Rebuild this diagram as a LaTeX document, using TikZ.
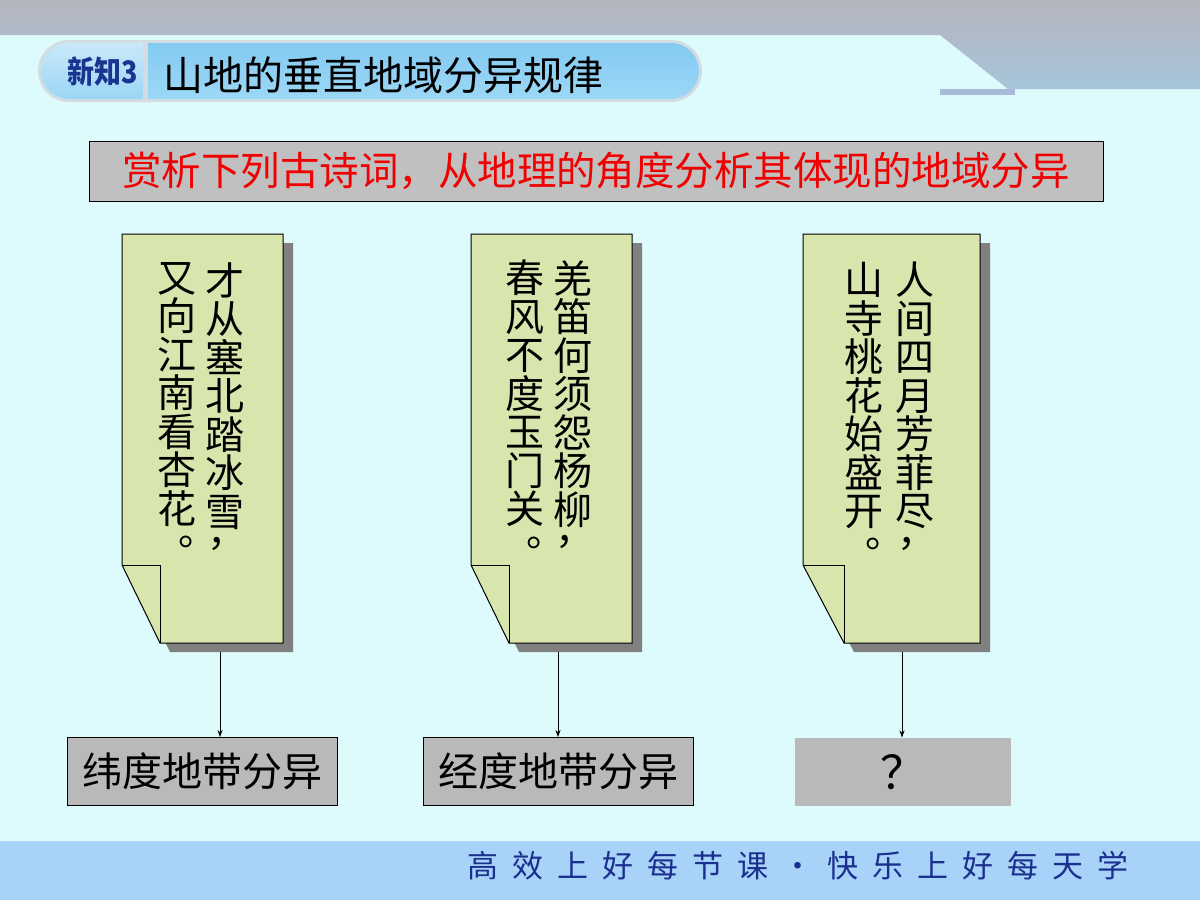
\documentclass[tikz,border=0pt]{standalone}
\usepackage{fontspec}
\newfontfamily\cjk{Noto Sans CJK SC}
\usetikzlibrary{arrows.meta}
\definecolor{bg}{HTML}{DDFBFD}
\definecolor{bandtop}{HTML}{B5B5BE}
\definecolor{bandbot}{HTML}{A6C4DA}
\definecolor{strip}{HTML}{A9B9D9}
\definecolor{pillborder}{HTML}{D3DCE2}
\definecolor{ptop}{HTML}{84CAF2}
\definecolor{pmid}{HTML}{D2F3FD}
\definecolor{pbot}{HTML}{9CD8F6}
\definecolor{ttop}{HTML}{C8E9F8}
\definecolor{tbot}{HTML}{9BD6F6}
\definecolor{tagblue}{HTML}{1A3590}
\definecolor{redfill}{HTML}{C0C0C0}
\definecolor{redtext}{HTML}{F00000}
\definecolor{notefill}{HTML}{D8E5AD}
\definecolor{notesh}{HTML}{808080}
\definecolor{labfill}{HTML}{B9B9B9}
\definecolor{footband}{HTML}{A7D3F8}
\definecolor{foottext}{HTML}{1B2F8F}
\newcommand\fsp{\kern14pt}
\newcommand\vcm{\makebox[1em][l]{\hspace{0.05em}\raisebox{0.45em}{，}}}
\newcommand\vpd{\makebox[1em][l]{\hspace{0.55em}\raisebox{0.42em}{。}}}
\newcommand\mynote[3]{%
  \fill[notesh] (#1+10,243) -- (#2+10,243) -- (#2+10,652) -- (#3+10,652) -- (#1+10,574) -- cycle;
  \filldraw[notebox] (#1,234) -- (#2,234) -- (#2,643) -- (#3,643) -- (#1,565) -- cycle;
  \draw[line width=1pt] (#1,565) -- (#3,565) -- (#3,643);}
\tikzset{
  notebox/.style={fill=notefill, draw=black, line width=1pt},
  vcol/.style={anchor=north, inner sep=0pt, align=center, font={\cjk\fontsize{39pt}{38.5pt}\selectfont}},
  labbox/.style={fill=labfill, draw=black, line width=1pt, minimum height=68pt, inner sep=0pt, font={\cjk\fontsize{40pt}{40pt}\selectfont}},
  conn/.style={line width=0.8pt, -{Stealth[length=7pt,width=5pt]}},
}
\begin{document}
\begin{tikzpicture}[x=1pt,y=-1pt]
\useasboundingbox (0,0) rectangle (1200,900);
\fill[bg] (0,0) rectangle (1200,900);
% top band
\shade[top color=bandtop, bottom color=bandbot] (0,0) -- (1200,0) -- (1200,89) -- (1008,89) -- (940,35) -- (0,35) -- cycle;
\fill[strip] (940,89) rectangle (1015,95);
% title pill
\fill[pillborder, rounded corners=31pt] (38,40) rectangle (702,102);
\shade[top color=ttop, bottom color=tbot, sharp corners] (143,43) [rounded corners=28pt] -- (41,43) -- (41,99) [sharp corners] -- (143,99) -- cycle;
\shade[top color=ptop, middle color=pmid, bottom color=pbot, sharp corners] (148,43) [rounded corners=28pt] -- (699,43) -- (699,99) [sharp corners] -- (148,99) -- cycle;
\node[anchor=west, inner sep=0pt, text=tagblue, font={\cjk\bfseries\fontsize{27pt}{27pt}\selectfont}] (tag) at (67,72) {\scalebox{1}[1.15]{新知3}};
\node[anchor=west, inner sep=0pt, font={\cjk\fontsize{40pt}{40pt}\selectfont}] (title) at (163,75) {山地的垂直地域分异规律};
% task box
\node[fill=redfill, draw=black, line width=1pt, minimum width=1014pt, minimum height=60pt, inner sep=0pt, text=redtext, font={\cjk\fontsize{39.5pt}{39.5pt}\selectfont}] (task) at (596,171) {赏析下列古诗词，从地理的角度分析其体现的地域分异};
% label boxes
\node[labbox, minimum width=270pt] (l1) at (202,771.5) {纬度地带分异};
\node[labbox, minimum width=270pt] (l2) at (558,771.5) {经度地带分异};
\node[labbox, draw=none, minimum width=216pt, font={\cjk\fontsize{46pt}{46pt}\selectfont}] (l3) at (903,772) {？};
% connectors
\coordinate (n1) at (220,643);
\coordinate (n2) at (558,643);
\coordinate (n3) at (902,643);
\draw[conn] (n1) -- (n1 |- l1.north);
\draw[conn] (n2) -- (n2 |- l2.north);
\draw[conn] (n3) -- (n3 |- l3.north);
% notes
\mynote{122}{283}{160}
\mynote{471}{632}{509}
\mynote{803}{980}{844}
\node[vcol] (p1a) at (225,262) {才\\从\\塞\\北\\踏\\冰\\雪\\\vcm};
\node[vcol] (p1b) at (177,262) {又\\向\\江\\南\\看\\杏\\花\\\vpd};
\node[vcol] (p2a) at (573,260) {羌\\笛\\何\\须\\怨\\杨\\柳\\\vcm};
\node[vcol] (p2b) at (525,260) {春\\风\\不\\度\\玉\\门\\关\\\vpd};
\node[vcol] (p3a) at (915,262) {人\\间\\四\\月\\芳\\菲\\尽\\\vcm};
\node[vcol] (p3b) at (864,262) {山\\寺\\桃\\花\\始\\盛\\开\\\vpd};
% footer
\fill[footband] (0,841) rectangle (1200,900);
\node[anchor=west, inner sep=0pt, text=foottext, font={\cjk\fontsize{31pt}{31pt}\selectfont}] (foot) at (467,866) {高\fsp 效\fsp 上\fsp 好\fsp 每\fsp 节\fsp 课\fsp \makebox[31pt]{·}\fsp 快\fsp 乐\fsp 上\fsp 好\fsp 每\fsp 天\fsp 学};
\end{tikzpicture}
\end{document}
